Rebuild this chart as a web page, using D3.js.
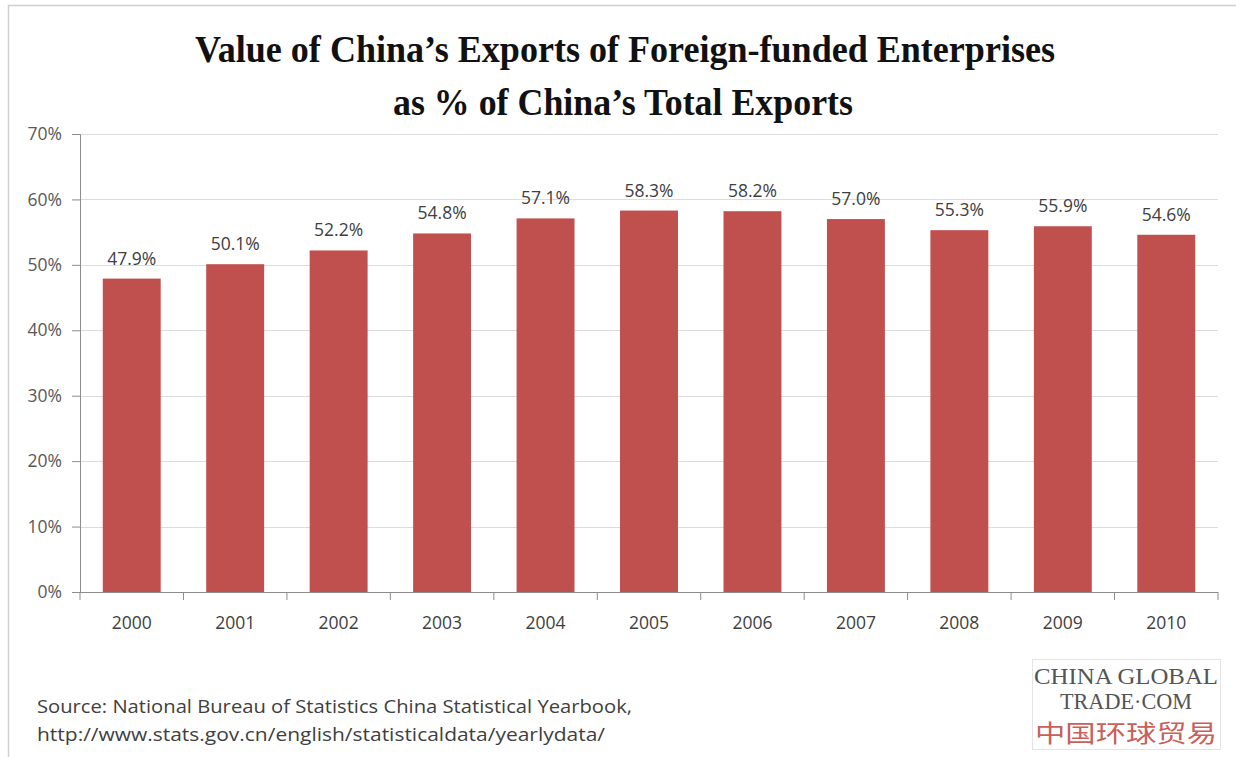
<!DOCTYPE html>
<html>
<head>
<meta charset="utf-8">
<script src="https://cdn.jsdelivr.net/npm/d3@7"></script>
<style>
  html, body { margin: 0; padding: 0; background: #fff; }
  svg { display: block; }
</style>
</head>
<body>
<svg id="chart" width="1236" height="757"></svg>
<script>
// Share of foreign-funded enterprises in China's total exports, 2000-2010
const years = ["2000", "2001", "2002", "2003", "2004", "2005", "2006", "2007", "2008", "2009", "2010"];
const shares = [47.9, 50.1, 52.2, 54.8, 57.1, 58.3, 58.2, 57.0, 55.3, 55.9, 54.6];
const yTicks = [0, 10, 20, 30, 40, 50, 60, 70];
const titleLines = ["Value of China\u2019s Exports of Foreign-funded Enterprises", "as % of China\u2019s Total Exports"];
const sourceLines = ["Source: National Bureau of Statistics China Statistical Yearbook,", "http://www.stats.gov.cn/english/statisticaldata/yearlydata/"];
const logoLines = ["CHINA GLOBAL", "TRADE\u00B7COM", "中国环球贸易"];

const svg = d3.select("#chart");
const W = 1236, H = 757;
const plot = { left: 80, right: 1218, top: 134, bottom: 592 };
const sansFont = "'Open Sans', 'Noto Sans', sans-serif";
const serifFont = "'Liberation Serif', 'DejaVu Serif', serif";

// frame of the chart area
svg.append("rect").attr("x", 8.5).attr("y", 5.5).attr("width", W).attr("height", H)
  .attr("fill", "#fff").attr("stroke", "#d0d0d0").attr("stroke-width", 1.5);

const x = d3.scaleBand().domain(years).range([plot.left, plot.right])
  .paddingInner(0.44).paddingOuter(0.22);
const y = d3.scaleLinear().domain([0, 70]).range([plot.bottom, plot.top]);

// gridlines
svg.append("g").selectAll("line").data(yTicks.filter(t => t > 0)).join("line")
  .attr("x1", plot.left).attr("x2", plot.right)
  .attr("y1", d => Math.round(y(d)) + 0.5).attr("y2", d => Math.round(y(d)) + 0.5)
  .attr("stroke", "#dcdcdc").attr("stroke-width", 1.2);

// y axis
const yAxis = svg.append("g").attr("transform", `translate(${plot.left},0)`)
  .call(d3.axisLeft(y).tickValues(yTicks).tickFormat(d => d + "%").tickSizeOuter(0).tickSize(8).tickPadding(10));
yAxis.select(".domain").attr("stroke", "#8c8c8c");
yAxis.selectAll(".tick line").attr("stroke", "#8c8c8c");
yAxis.selectAll("text").attr("font-family", sansFont).attr("font-size", 17.5).attr("fill", "#595959");

// bars
svg.append("g").selectAll("rect").data(years).join("rect")
  .attr("x", d => x(d)).attr("width", x.bandwidth())
  .attr("y", (d, i) => y(shares[i])).attr("height", (d, i) => y(0) - y(shares[i]))
  .attr("fill", "#C0504D");

// x axis with ticks between categories
const xAxisG = svg.append("g").attr("transform", `translate(0,${plot.bottom})`);
xAxisG.append("line").attr("x1", plot.left).attr("x2", plot.right).attr("y1", 0.5).attr("y2", 0.5)
  .attr("stroke", "#8c8c8c").attr("stroke-width", 1.2);
const step = x.step();
const boundaries = d3.range(years.length + 1).map(i => plot.left + i * step);
xAxisG.selectAll("line.tk").data(boundaries).join("line").attr("class", "tk")
  .attr("x1", d => d).attr("x2", d => d).attr("y1", 0).attr("y2", 8)
  .attr("stroke", "#8c8c8c");
xAxisG.selectAll("text").data(years).join("text")
  .attr("x", d => x(d) + x.bandwidth() / 2).attr("y", 37)
  .attr("text-anchor", "middle").attr("font-family", sansFont).attr("font-size", 17.5)
  .attr("fill", "#404040").text(d => d);

// value labels
svg.append("g").selectAll("text").data(years).join("text")
  .attr("x", d => x(d) + x.bandwidth() / 2).attr("y", (d, i) => y(shares[i]) - 14)
  .attr("text-anchor", "middle").attr("font-family", sansFont).attr("font-size", 17.5)
  .attr("fill", "#404040").text((d, i) => shares[i].toFixed(1) + "%");

// title
svg.append("text").attr("x", 625).attr("y", 62).attr("text-anchor", "middle")
  .attr("font-family", serifFont).attr("font-weight", "bold").attr("font-size", 38)
  .attr("textLength", 860).attr("lengthAdjust", "spacingAndGlyphs")
  .attr("fill", "#111").text(titleLines[0]);
svg.append("text").attr("x", 623).attr("y", 115).attr("text-anchor", "middle")
  .attr("font-family", serifFont).attr("font-weight", "bold").attr("font-size", 38)
  .attr("textLength", 460).attr("lengthAdjust", "spacingAndGlyphs")
  .attr("fill", "#111").text(titleLines[1]);

// source note
svg.append("g").selectAll("text").data(sourceLines).join("text")
  .attr("x", 37).attr("y", (d, i) => 713 + i * 28)
  .attr("font-family", sansFont).attr("font-size", 17.5)
  .attr("textLength", (d, i) => i === 0 ? 595 : 568).attr("lengthAdjust", "spacingAndGlyphs")
  .attr("fill", "#404040").text(d => d);

// logo block
const logo = svg.append("g");
logo.append("rect").attr("x", 1032.5).attr("y", 659.5).attr("width", 188).attr("height", 90)
  .attr("fill", "#fff").attr("stroke", "#e4e4e4");
logo.append("text").attr("x", 1126).attr("y", 684).attr("text-anchor", "middle")
  .attr("font-family", serifFont).attr("font-size", 23).attr("fill", "#555")
  .attr("textLength", 184).attr("lengthAdjust", "spacingAndGlyphs").text(logoLines[0]);
logo.append("text").attr("x", 1126).attr("y", 709).attr("text-anchor", "middle")
  .attr("font-family", serifFont).attr("font-size", 23).attr("fill", "#555")
  .attr("textLength", 132).attr("lengthAdjust", "spacingAndGlyphs").text(logoLines[1]);
logo.append("text").attr("x", 1126).attr("y", 742).attr("text-anchor", "middle")
  .attr("font-family", "'Noto Sans CJK SC', sans-serif").attr("font-size", 24).attr("fill", "#c9605a")
  .attr("textLength", 182).attr("lengthAdjust", "spacingAndGlyphs").text(logoLines[2]);
</script>
</body>
</html>
